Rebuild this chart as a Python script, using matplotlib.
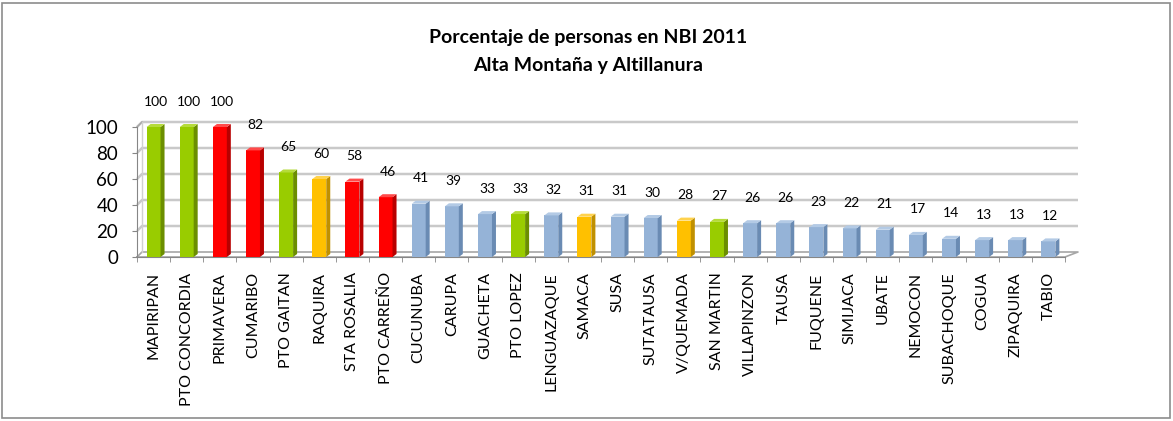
import matplotlib
matplotlib.use("Agg")
import matplotlib.pyplot as plt
from matplotlib.patches import Polygon, Rectangle
import numpy as np

plt.rcParams['font.family'] = ['Lato', 'DejaVu Sans']

# data
municipios = ["MAPIRIPAN", "PTO CONCORDIA", "PRIMAVERA", "CUMARIBO", "PTO GAITAN",
              "RAQUIRA", "STA ROSALIA", "PTO CARREÑO", "CUCUNUBA", "CARUPA",
              "GUACHETA", "PTO LOPEZ", "LENGUAZAQUE", "SAMACA", "SUSA",
              "SUTATAUSA", "V/QUEMADA", "SAN MARTIN", "VILLAPINZON", "TAUSA",
              "FUQUENE", "SIMIJACA", "UBATE", "NEMOCON", "SUBACHOQUE",
              "COGUA", "ZIPAQUIRA", "TABIO"]
nbi = [100, 100, 100, 82, 65, 60, 58, 46, 41, 39, 33, 33, 32, 31, 31, 30, 28, 27,
       26, 26, 23, 22, 21, 17, 14, 13, 13, 12]
grupo = ["g", "g", "r", "r", "g", "o", "r", "r", "b", "b", "b", "g", "b", "o", "b",
         "b", "o", "g", "b", "b", "b", "b", "b", "b", "b", "b", "b", "b"]

face_col = {"g": "#99CC00", "r": "#FF0000", "o": "#FFC000", "b": "#95B3D7"}
side_col = {"g": "#6B8E00", "r": "#B80000", "o": "#C09000", "b": "#6A8BB3"}
top_col = {"g": "#B5DB3A", "r": "#FF4A4A", "o": "#FFD24D", "b": "#B3CAE5"}

W, H = 1173, 421
fig = plt.figure(figsize=(W / 100, H / 100), dpi=100)

# axes in pixel terms
px_left, px_right, px_bottom, px_top = 137, 1080, 257, 112
n = len(nbi)
ux = (1065 - px_left) / n          # px per category
uy = 1.30                          # px per percent
xmax = -0.5 + (px_right - px_left) / ux
ymax = (px_bottom - px_top) / uy

ax = fig.add_axes([px_left / W, 1 - px_bottom / H,
                   (px_right - px_left) / W, (px_bottom - px_top) / H])
ax.set_xlim(-0.5, xmax)
ax.set_ylim(0, ymax)

# 3D walls / gridlines
dxw = 5 / ux
dyw = 5 / uy
grid_c = "#C9C9C9"
x_back_right = n - 0.5 + 13 / ux
for v in [20, 40, 60, 80, 100]:
    ax.plot([-0.5, -0.5 + dxw, x_back_right], [v, v + dyw, v + dyw],
            color=grid_c, lw=1.8, solid_capstyle="butt", clip_on=False, zorder=1)
# floor
ax.plot([-0.5, -0.5 + dxw, x_back_right, n - 0.5, -0.5],
        [0, dyw, dyw, 0, 0], color="#A6A6A6", lw=1.2, clip_on=False, zorder=1)
ax.plot([-0.5, -0.5 + dxw], [100, 100 + dyw], color="#A6A6A6", lw=1.0, clip_on=False, zorder=1)
ax.plot([-0.5 + dxw, -0.5 + dxw], [dyw, 100 + dyw], color="#D0D0D0", lw=1.0, clip_on=False, zorder=1)

# bars
w = 0.42
bdx = 4 / ux
bdy = 3 / uy
x = np.arange(n)
cols = [face_col[g] for g in grupo]
ax.bar(x, nbi, width=w, color=cols, zorder=3, linewidth=0)
for xi, v, g in zip(x, nbi, grupo):
    side = Polygon([(xi + w / 2, 0), (xi + w / 2 + bdx, bdy), (xi + w / 2 + bdx, v + bdy),
                    (xi + w / 2, v)], closed=True, facecolor=side_col[g], lw=0, zorder=3)
    top = Polygon([(xi - w / 2, v), (xi + w / 2, v), (xi + w / 2 + bdx, v + bdy),
                   (xi - w / 2 + bdx, v + bdy)], closed=True, facecolor=top_col[g], lw=0, zorder=3)
    ax.add_patch(side)
    ax.add_patch(top)
    ax.annotate(str(v), (xi + bdx / 2, v), xytext=(0, 14), textcoords="offset points",
                ha="center", va="bottom", fontsize=10, color="black")

# axes styling
for s in ["top", "right"]:
    ax.spines[s].set_visible(False)
ax.spines["left"].set_color("#868686")
ax.spines["left"].set_bounds(0, 100)
ax.spines["bottom"].set_color("#868686")
ax.spines["bottom"].set_bounds(-0.5, n - 0.5)
ax.set_yticks([0, 20, 40, 60, 80, 100])
ax.tick_params(axis="y", length=3.6, color="#868686", pad=10, labelsize=13.5)
ax.set_xticks(x)
ax.set_xticklabels(municipios, rotation=90, fontsize=11.5)
ax.tick_params(axis="x", which="major", length=0, pad=11)
ax.set_xticks(np.arange(n + 1) - 0.5, minor=True)
ax.tick_params(axis="x", which="minor", length=3.6, color="#868686")
ax.patch.set_alpha(0)

fig.text(588 / W, 1 - 38 / H, "Porcentaje de personas en NBI 2011", ha="center", va="center",
         fontsize=14, fontweight="bold")
fig.text(588 / W, 1 - 65 / H, "Alta Montaña y Altillanura", ha="center", va="center",
         fontsize=14, fontweight="bold")

fig.patches.append(Rectangle((2 / W, 3 / H), (W - 5) / W, (H - 6) / H, transform=fig.transFigure,
                             fill=False, edgecolor="#8C8C8C", lw=1.2))

fig.savefig("out.png", dpi=100)
